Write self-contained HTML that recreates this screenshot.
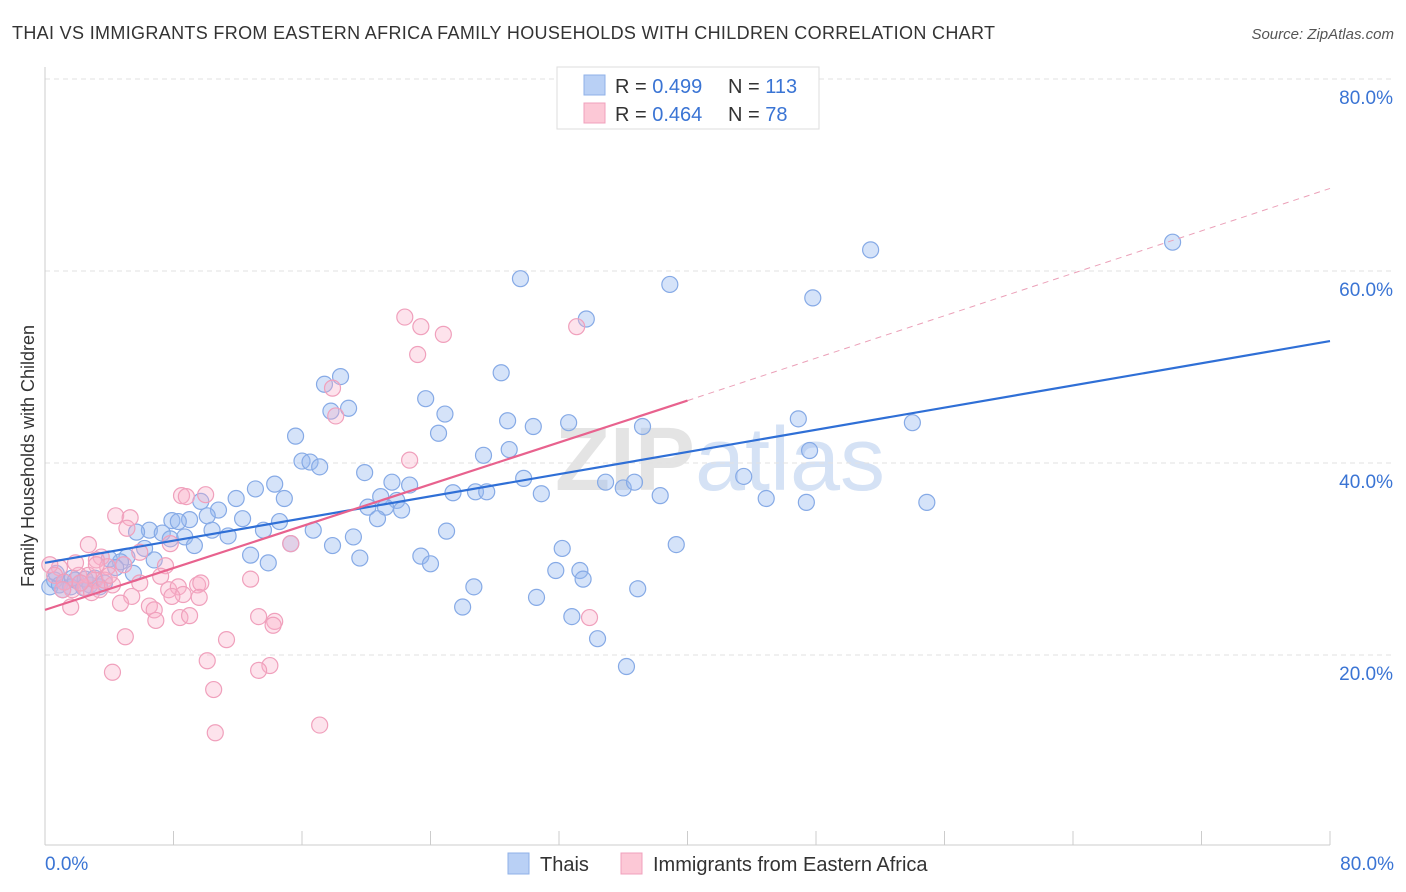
<!DOCTYPE html>
<html><head><meta charset="utf-8"><style>
body{margin:0;background:#fff;font-family:"Liberation Sans",sans-serif}
svg{display:block}
</style></head><body>
<svg id="chart" width="1406" height="892">
<text x="12" y="39" font-size="18" fill="#333" textLength="983">THAI VS IMMIGRANTS FROM EASTERN AFRICA FAMILY HOUSEHOLDS WITH CHILDREN CORRELATION CHART</text>
<text x="1394" y="39" font-size="15" fill="#555" font-style="italic" text-anchor="end">Source: ZipAtlas.com</text>
<text x="720" y="490" font-size="90" fill="#e4e4e4" text-anchor="middle" font-weight="bold">ZIP<tspan fill="#d5e2f5" font-weight="normal">atlas</tspan></text>
<g id="grid"></g><g id="axes"></g><g id="pts"></g><g id="lines"></g>
<text transform="translate(34,456) rotate(-90)" font-size="18" fill="#333" text-anchor="middle">Family Households with Children</text>
<g>
<rect x="557" y="67" width="262" height="62" fill="#fff" stroke="#ddd"/>
<rect x="584" y="75" width="21" height="20" fill="#b9d0f5" stroke="#8fb1e8"/>
<rect x="584" y="103" width="21" height="20" fill="#fcc8d6" stroke="#f0a0bc"/>
<text x="615" y="93" font-size="20" fill="#333">R = <tspan fill="#3a74d4">0.499</tspan><tspan x="728">N = </tspan><tspan fill="#3a74d4">113</tspan></text>
<text x="615" y="121" font-size="20" fill="#333">R = <tspan fill="#3a74d4">0.464</tspan><tspan x="728">N = </tspan><tspan fill="#3a74d4"> 78</tspan></text>
</g>
<g>
<rect x="508" y="853" width="21" height="21" fill="#b9d0f5" stroke="#8fb1e8"/>
<text x="540" y="871" font-size="20" fill="#333">Thais</text>
<rect x="621" y="853" width="21" height="21" fill="#fcc8d6" stroke="#f0a0bc"/>
<text x="653" y="871" font-size="20" fill="#333">Immigrants from Eastern Africa</text>
</g>
</svg>
<script>
const yTicks=[20,40,60,80];
const xTickLabels=["0.0%","80.0%"];
const thaiX=[29.6,38.9,51.4,70.2,47.8,33.7,18.4,17.4,18.9,17.8,28.4,23.7,24.9,24.5,15.6,16.0,16.5,17.1,46.9,54.0,37.2,30.4,32.6,28.8,27.3,28.9,47.6,19.9,21.6,22.7,29.8,14.3,13.1,11.9,9.7,14.9,20.9,21.9,21.2,20.1,22.2,20.7,25.4,26.8,27.5,30.9,34.9,36.0,36.7,38.3,43.5,44.9,47.4,54.9,10.8,10.1,7.9,9.0,6.5,8.3,5.7,7.3,7.8,8.7,9.3,10.4,11.4,12.3,13.6,14.6,15.3,16.7,17.9,19.2,6.2,6.8,5.1,4.7,4.0,4.4,5.5,12.8,13.9,19.6,23.4,24.0,25.0,32.2,31.8,33.3,33.5,26.7,26.0,30.6,32.8,34.4,36.9,39.3,36.2,0.3,0.6,0.9,1.2,1.6,1.9,2.2,2.5,2.8,3.1,3.4,0.7,1.7,1.1,2.4,3.7];
const thaiY=[59.2,58.6,62.2,63.0,57.2,55.0,49.0,48.2,45.7,45.4,49.4,46.7,45.1,43.1,42.8,40.2,40.1,39.6,44.6,44.2,43.8,43.8,44.2,44.4,40.8,41.4,41.3,39.0,38.0,37.7,38.4,37.8,37.3,36.3,36.0,36.3,36.5,36.1,35.4,35.4,35.1,34.2,36.9,37.0,37.0,36.8,38.0,37.4,38.0,36.6,38.6,36.3,35.9,35.9,35.1,34.5,34.0,34.1,33.0,33.9,32.8,32.7,32.1,32.3,31.4,33.0,32.4,34.2,33.0,33.9,31.6,33.0,31.4,32.3,31.1,29.9,30.2,29.7,30.0,29.1,28.5,30.4,29.6,30.1,30.3,29.5,32.9,31.1,28.8,28.8,27.9,27.1,25.0,26.0,24.0,21.7,26.9,31.5,18.8,27.1,27.8,27.3,27.6,27.1,27.8,27.5,27.9,27.3,28.0,27.1,28.5,28.0,26.8,27.0,27.5];
const immX=[22.4,23.4,24.8,33.1,23.2,17.9,18.1,22.7,8.5,10.0,8.8,4.4,5.3,5.1,2.7,3.5,3.2,3.9,4.9,5.9,7.8,7.5,7.2,5.9,7.7,8.3,9.5,9.7,12.8,15.3,5.4,4.7,6.5,6.8,6.9,8.4,9.0,9.6,8.6,7.9,13.3,14.3,14.2,5.0,11.3,10.1,14.0,13.3,4.2,10.5,10.6,17.1,33.9,1.6,1.7,2.5,2.9,3.1,2.1,0.9,0.3,0.6,1.2,3.4,3.7,4.2,1.9,2.7,3.2,1.1,2.2,4.0];
const immY=[55.2,54.2,53.4,54.2,51.3,47.8,44.9,40.3,36.6,36.7,36.5,34.5,34.3,33.2,31.5,30.2,29.9,29.2,29.4,30.7,31.6,29.3,28.2,27.5,26.8,27.1,27.3,27.5,27.9,31.6,26.1,25.4,25.1,24.7,23.6,23.9,24.1,26.0,26.3,26.1,24.0,23.5,23.1,21.9,21.6,19.4,18.9,18.4,18.2,16.4,11.9,12.7,23.9,25.0,26.8,27.0,26.5,27.8,28.3,29.1,29.4,28.3,27.6,26.8,27.8,27.3,29.6,28.3,29.4,26.8,27.5,28.3];
const thaiTrend=[[0,29.6],[80,52.7]];
const immTrendSolid=[[0,24.7],[40,46.5]];
const immTrendDash=[[40,46.5],[80,68.6]];
const NS="http://www.w3.org/2000/svg";
const X=v=>45+v*(1285/80), Y=v=>847-v*9.6;
function mk(t,a,p){const e=document.createElementNS(NS,t);for(const k in a)e.setAttribute(k,a[k]);document.getElementById(p).appendChild(e);return e;}
yTicks.forEach(t=>{
 const g=mk('line',{x1:45,x2:1394,y1:Y(t),y2:Y(t),stroke:'#e2e2e2','stroke-dasharray':'5,4'},'grid');
 
 
 const l=mk('text',{x:1393,y:Y(t)+25,'font-size':19,fill:'#3a74d4','text-anchor':'end'},'grid');l.textContent=t.toFixed(1)+'%';
 
 
});
const ax=mk('line',{x1:45,x2:45,y1:67,y2:845,stroke:'#ccc'},'axes');


const bx=mk('line',{x1:45,x2:1330,y1:845,y2:845,stroke:'#ccc'},'axes');


for(let i=0;i<=10;i++){const t=mk('line',{x1:X(i*8),x2:X(i*8),y1:831,y2:845,stroke:'#ccc'},'axes');
 
 }
[[0,'start',45],[80,'end',1394]].forEach((d,i)=>{const l=mk('text',{x:d[2],y:870,'font-size':19,fill:'#3a74d4','text-anchor':d[1]},'axes');l.textContent=xTickLabels[i];
 
 });
thaiX.forEach((v,i)=>{const c=mk('circle',{cx:X(v),cy:Y(thaiY[i]),r:8,fill:'rgba(150,185,240,0.4)',stroke:'#86aae6','stroke-width':1.2},'pts');
 
 });
immX.forEach((v,i)=>{const c=mk('circle',{cx:X(v),cy:Y(immY[i]),r:8,fill:'rgba(248,175,200,0.35)',stroke:'#f0a0bc','stroke-width':1.2},'pts');
 
 });
function ln(d,col,w,dash,name){const e=mk('line',{x1:X(d[0][0]),y1:Y(d[0][1]),x2:X(d[1][0]),y2:Y(d[1][1]),stroke:col,'stroke-width':w},'lines');if(dash)e.setAttribute('stroke-dasharray',dash);
 
 }
ln(thaiTrend,'#2f6fd6',2.2,null,'thai-trend-line');
ln(immTrendSolid,'#e8628e',2.2,null,'immigrant-trend-line');
ln(immTrendDash,'#eba0b8',1,'6,5','immigrant-trend-extension');
</script>
</body></html>
